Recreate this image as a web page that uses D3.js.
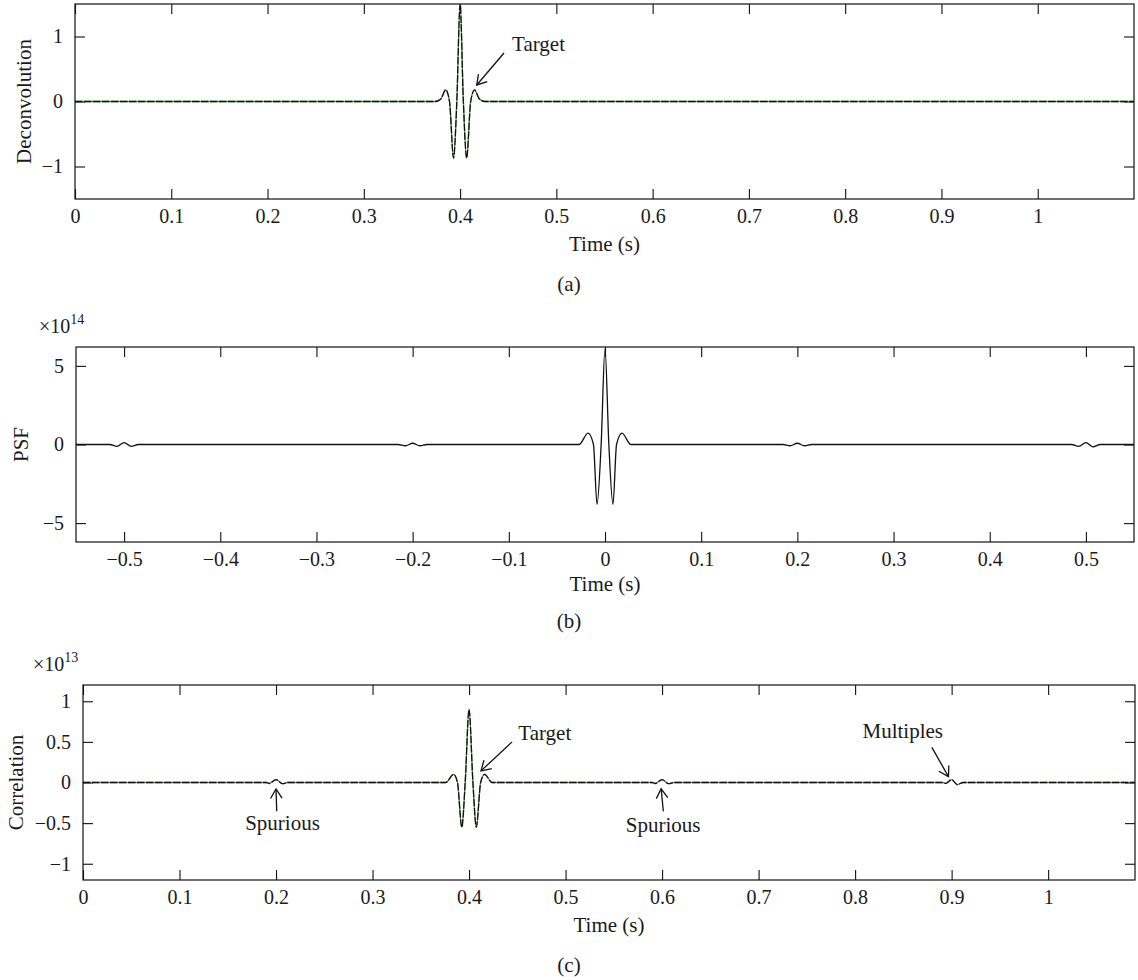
<!DOCTYPE html>
<html>
<head>
<meta charset="utf-8">
<script src="https://cdn.jsdelivr.net/npm/d3@7"></script>
<style>
    body { margin: 0; background: #fff; }
    svg text { font-family: "Liberation Serif", "Times New Roman", serif; fill: #1a1a1a; }
</style>
</head>
<body>
<div id="viz"></div>
<script>
// Values

// (a) deconvolution
const deconvTime  = [0, 0.374, 0.380, 0.385, 0.389, 0.3932, 0.3966, 0.400, 0.4034, 0.4068, 0.411, 0.415, 0.420, 0.426, 1.1];
const deconvValue = [0, 0, 0.04, 0.18, 0, -0.87, 0, 1.5, 0, -0.87, 0, 0.18, 0.04, 0, 0];

// (b) PSF, x1e14
const psfTime  = [-0.55, -0.515, -0.5075, -0.5, -0.4925, -0.485, -0.215, -0.2075, -0.2, -0.1925, -0.185,
                  -0.027, -0.0176, -0.012, -0.0083, -0.004, 0, 0.004, 0.0083, 0.012, 0.0176, 0.027,
                  0.185, 0.1925, 0.2, 0.2075, 0.215, 0.485, 0.4925, 0.5, 0.5075, 0.515, 0.55];
const psfValue = [0, 0, -0.12, 0.12, -0.12, 0, 0, -0.08, 0.08, -0.08, 0,
                  0, 0.72, 0, -3.8, 0, 6.1, 0, -3.8, 0, 0.72, 0,
                  0, -0.08, 0.08, -0.08, 0, 0, -0.12, 0.12, -0.15, 0, 0];

// (c) correlation, x1e13
const corrTime  = [0, 0.19, 0.193, 0.2, 0.207, 0.212, 0.376, 0.384, 0.388, 0.3925, 0.396, 0.4,
                   0.404, 0.4075, 0.412, 0.416, 0.424, 0.59, 0.593, 0.6, 0.607, 0.612,
                   0.89, 0.894, 0.9, 0.906, 0.912, 1.09];
const corrValue = [0, 0, -0.012, 0.035, -0.015, 0, 0, 0.1, 0, -0.55, 0, 0.9,
                   0, -0.55, 0, 0.1, 0, 0, -0.012, 0.035, -0.015, 0,
                   0, -0.01, 0.035, -0.025, 0, 0];

const timeTicks = [0, 0.1, 0.2, 0.3, 0.4, 0.5, 0.6, 0.7, 0.8, 0.9, 1];
const psfTimeTicks = [-0.5, -0.4, -0.3, -0.2, -0.1, 0, 0.1, 0.2, 0.3, 0.4, 0.5];
const deconvTicks = [-1, 0, 1];
const psfTicks = [-5, 0, 5];
const corrTicks = [-1, -0.5, 0, 0.5, 1];

// annotations: [label, textT, textV, anchor, tailT, tailV, tipT, tipV]
const deconvNotes = [["Target", 0.454, 0.78, "start", 0.4456, 0.746, 0.4173, 0.254]];
const corrNotes = [
    ["Target", 0.451, 0.52, "start", 0.4446, 0.5, 0.4124, 0.143],
    ["Spurious", 0.2067, -0.59, "middle", 0.2007, -0.355, 0.2, -0.08],
    ["Spurious", 0.601, -0.615, "middle", 0.6013, -0.355, 0.599, -0.077],
    ["Multiples", 0.8494, 0.547, "middle", 0.8795, 0.433, 0.8967, 0.073]
];

const W = 1138, H = 980;
const tickFont = 20, labelFont = 21;
const fmt = v => (v < 0 ? "\u2212" : "") + d3.format("~g")(Math.abs(v));

const svg = d3.select("#viz").append("svg")
    .attr("width", W)
    .attr("height", H);

svg.append("rect").attr("width", W).attr("height", H).attr("fill", "#fff");

function drawPanel(p) {
    const x = d3.scaleLinear().domain(p.xDomain).range([p.left, p.right]);
    const y = d3.scaleLinear().domain(p.yDomain).range([p.bottom, p.top]);

    const g = svg.append("g");

    const clipId = "clip" + p.id;
    g.append("clipPath").attr("id", clipId)
        .append("rect")
        .attr("x", p.left).attr("y", p.top)
        .attr("width", p.right - p.left).attr("height", p.bottom - p.top);

    // axes, ticks pointing inward on all four sides
    g.append("g")
        .attr("transform", "translate(0," + p.bottom + ")")
        .call(d3.axisBottom(x).tickValues(p.xTicks).tickFormat(fmt).tickSize(-10).tickPadding(10).tickSizeOuter(0));
    g.append("g")
        .attr("transform", "translate(0," + p.top + ")")
        .call(d3.axisTop(x).tickValues(p.xTicks).tickFormat("").tickSize(-10).tickSizeOuter(0));
    g.append("g")
        .attr("transform", "translate(" + p.left + ",0)")
        .call(d3.axisLeft(y).tickValues(p.yTicks).tickFormat(fmt).tickSize(-10).tickPadding(12).tickSizeOuter(0));
    g.append("g")
        .attr("transform", "translate(" + p.right + ",0)")
        .call(d3.axisRight(y).tickValues(p.yTicks).tickFormat("").tickSize(-10).tickSizeOuter(0));

    g.selectAll(".domain").remove();
    g.selectAll(".tick line").attr("stroke", "#111").attr("stroke-width", 1.1);
    g.selectAll(".tick text").style("font-size", tickFont + "px").attr("fill", "#1a1a1a");

    const line = d3.line()
        .x(function(d, i) { return x(p.t[i]); })
        .y(function(d) { return y(d); })
        .curve(d3.curveMonotoneX);

    const curves = g.append("g").attr("clip-path", "url(#" + clipId + ")");
    if (p.dashed) {
        curves.append("path")
            .attr("d", line(p.v))
            .attr("fill", "none")
            .attr("stroke", "#5aa34a")
            .attr("stroke-width", 1.3);
        curves.append("path")
            .attr("d", line(p.v))
            .attr("fill", "none")
            .attr("stroke", "#111")
            .attr("stroke-width", 1.3)
            .attr("stroke-dasharray", "7.5,1.5");
    } else {
        curves.append("path")
            .attr("d", line(p.v))
            .attr("fill", "none")
            .attr("stroke", "#111")
            .attr("stroke-width", 1.3);
    }

    // frame
    g.append("rect")
        .attr("x", p.left).attr("y", p.top)
        .attr("width", p.right - p.left).attr("height", p.bottom - p.top)
        .attr("fill", "none")
        .attr("stroke", "#111")
        .attr("stroke-width", 1.2);

    // labels
    const mid = (p.left + p.right) / 2;
    g.append("text")
        .attr("x", mid).attr("y", p.bottom + p.xLabelDy)
        .attr("text-anchor", "middle")
        .style("font-size", labelFont + "px")
        .text("Time (s)");

    g.append("text")
        .attr("transform", "translate(" + p.yLabelX + "," + (p.top + p.bottom) / 2 + ") rotate(-90)")
        .attr("text-anchor", "middle")
        .style("font-size", labelFont + "px")
        .text(p.yLabel);

    g.append("text")
        .attr("x", W / 2).attr("y", p.bottom + p.captionDy)
        .attr("text-anchor", "middle")
        .style("font-size", labelFont + "px")
        .text(p.caption);

    if (p.exponent) {
        const e = g.append("text")
            .attr("x", p.expX).attr("y", p.top - 14)
            .style("font-size", tickFont + "px");
        e.append("tspan").text("\u00d710");
        e.append("tspan").attr("dy", -9).style("font-size", "14px").text(p.exponent);
    }

    // annotations
    (p.notes || []).forEach(function(n) {
        g.append("text")
            .attr("x", x(n[1])).attr("y", y(n[2]))
            .attr("text-anchor", n[3])
            .style("font-size", labelFont + "px")
            .text(n[0]);
        arrow(g, x(n[4]), y(n[5]), x(n[6]), y(n[7]));
    });
}

function arrow(g, x1, y1, x2, y2) {
    const ang = Math.atan2(y2 - y1, x2 - x1);
    const len = 11, spread = 0.55;
    const pts = [
        [x2 - len * Math.cos(ang - spread), y2 - len * Math.sin(ang - spread)],
        [x2, y2],
        [x2 - len * Math.cos(ang + spread), y2 - len * Math.sin(ang + spread)]
    ];
    g.append("line")
        .attr("x1", x1).attr("y1", y1).attr("x2", x2).attr("y2", y2)
        .attr("stroke", "#111").attr("stroke-width", 1.3);
    g.append("path")
        .attr("d", d3.line()(pts))
        .attr("fill", "none").attr("stroke", "#111").attr("stroke-width", 1.3);
}

drawPanel({
    id: "A", left: 75, right: 1134, top: 4, bottom: 199,
    xDomain: [0, 1.1], yDomain: [-1.5, 1.5],
    xTicks: timeTicks, yTicks: deconvTicks,
    t: deconvTime, v: deconvValue, dashed: true,
    yLabel: "Deconvolution", yLabelX: 31, xLabelDy: 52, captionDy: 92, caption: "(a)",
    notes: deconvNotes
});

drawPanel({
    id: "B", left: 76, right: 1134, top: 347, bottom: 542,
    xDomain: [-0.55, 0.55], yDomain: [-6.2, 6.2],
    xTicks: psfTimeTicks, yTicks: psfTicks,
    t: psfTime, v: psfValue, dashed: false,
    yLabel: "PSF", yLabelX: 28, xLabelDy: 49, captionDy: 86, caption: "(b)",
    exponent: "14", expX: 39
});

drawPanel({
    id: "C", left: 83, right: 1135, top: 685, bottom: 880,
    xDomain: [0, 1.09], yDomain: [-1.2, 1.2],
    xTicks: timeTicks, yTicks: corrTicks,
    t: corrTime, v: corrValue, dashed: true,
    yLabel: "Correlation", yLabelX: 23, xLabelDy: 52, captionDy: 92, caption: "(c)",
    notes: corrNotes, exponent: "13", expX: 33
});
</script>
</body>
</html>
